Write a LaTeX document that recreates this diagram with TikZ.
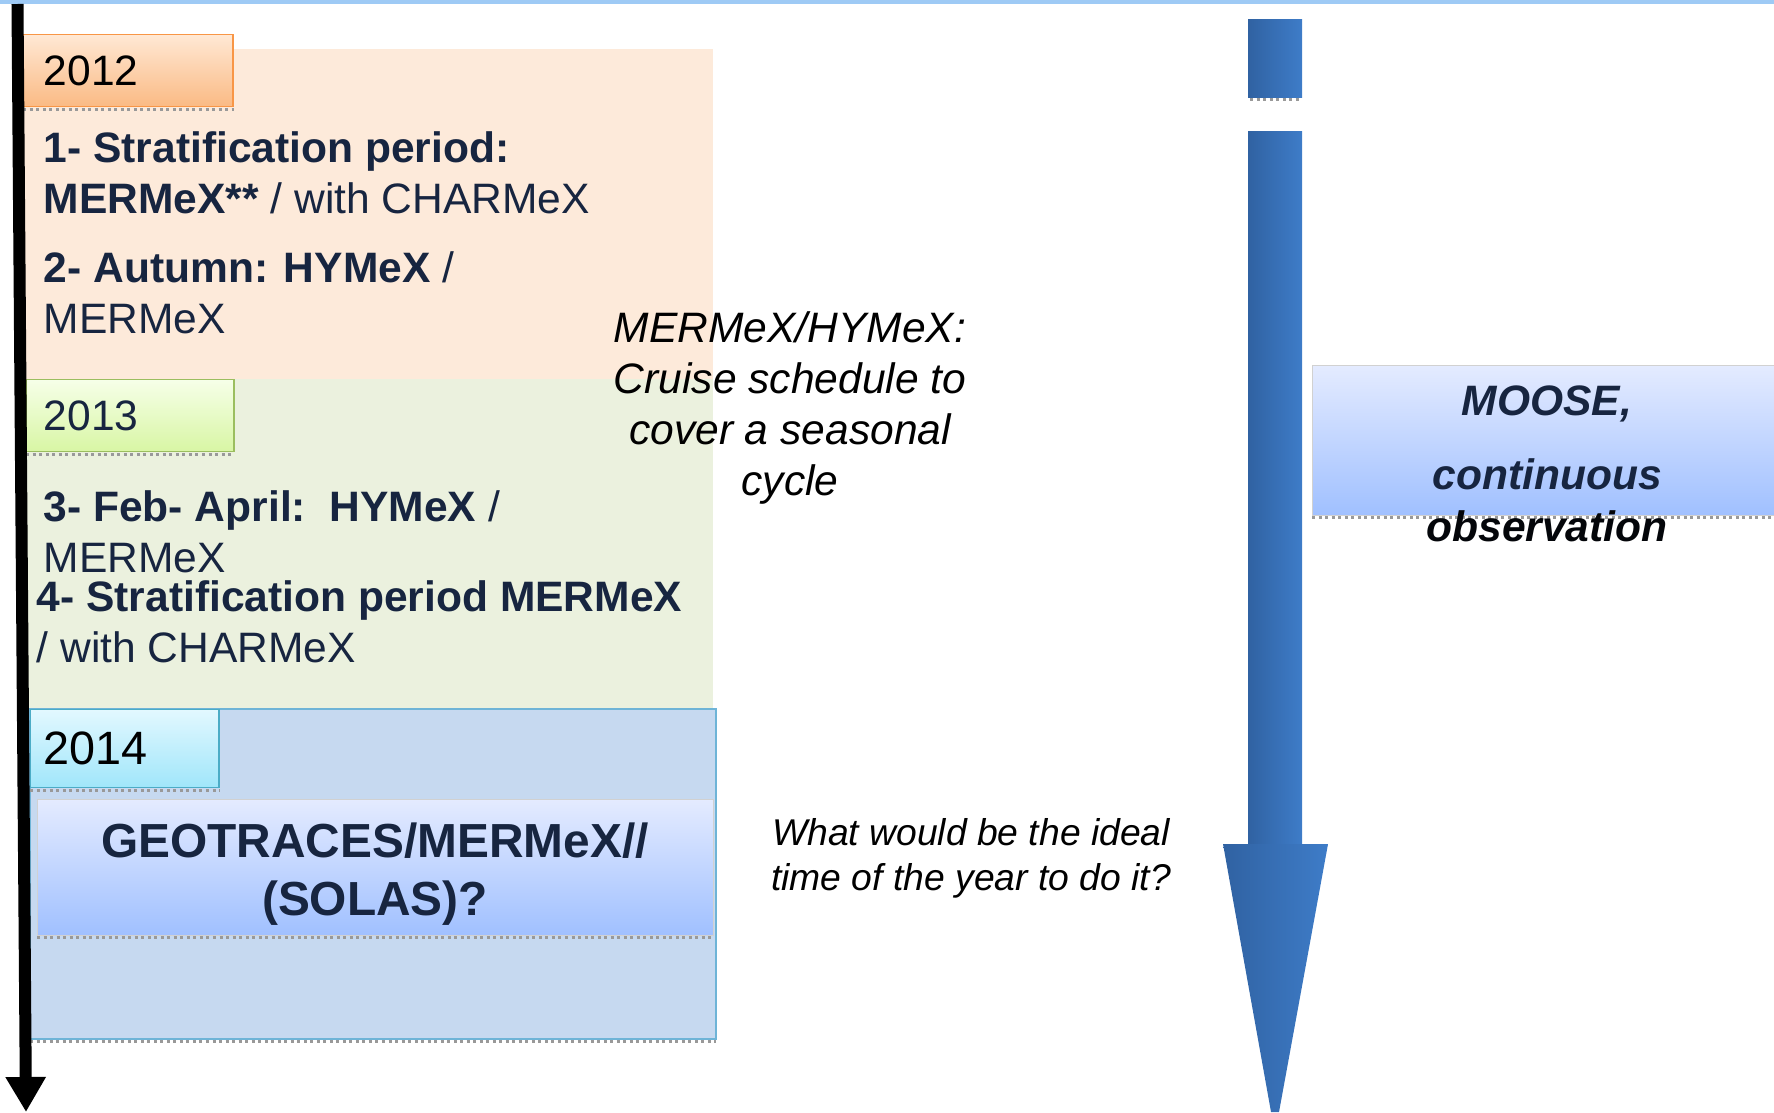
\documentclass[tikz,border=0pt]{standalone}
\usepackage{fontspec}
\setmainfont{Liberation Sans}
\usetikzlibrary{positioning,arrows.meta}
\definecolor{topline}{RGB}{158,202,245}
\definecolor{navy}{RGB}{23,37,64}
\definecolor{peach}{RGB}{253,234,218}
\definecolor{sage}{RGB}{235,241,222}
\definecolor{pale}{RGB}{198,217,240}
\definecolor{paleedge}{RGB}{110,180,215}
\definecolor{orgtop}{RGB}{255,232,212}
\definecolor{orgbot}{RGB}{250,186,132}
\definecolor{orgedge}{RGB}{248,150,70}
\definecolor{grntop}{RGB}{246,255,232}
\definecolor{grnbot}{RGB}{216,246,164}
\definecolor{grnedge}{RGB}{155,190,95}
\definecolor{cyntop}{RGB}{226,248,255}
\definecolor{cynbot}{RGB}{160,230,250}
\definecolor{cynedge}{RGB}{75,172,198}
\definecolor{lavtop}{RGB}{228,235,255}
\definecolor{lavbot}{RGB}{160,192,255}
\definecolor{arrl}{RGB}{48,98,162}
\definecolor{arrr}{RGB}{62,124,200}
\newcommand{\bodyfont}{\fontsize{12.1}{14.5}\selectfont}
\tikzset{line/.style={anchor=base west,inner sep=0,text=navy,font=\bodyfont}}
\tikzset{cruise/.style={anchor=base,inner sep=0,font=\bodyfont\itshape}}
\tikzset{ask/.style={anchor=base,inner sep=0,font=\fontsize{10.6}{12.8}\selectfont\itshape}}
\tikzset{moose/.style={anchor=base,inner sep=0,text=navy,font=\bodyfont\bfseries\itshape}}
\tikzset{yearbox/.style={anchor=north west,inner ysep=0,minimum height=.72cm,font=\bodyfont}}
\tikzset{bigbox/.style={anchor=north west,top color=lavtop,bottom color=lavbot,draw=black!18,line width=.2pt}}
\tikzset{shadowline/.style={black!40,line width=.03cm,densely dotted}}
\tikzset{shaft/.style={left color=arrl,right color=arrr}}
\tikzset{timeline/.style={line width=.12cm,-{Triangle[width=.38cm,length=.35cm]}}}

\begin{document}
\begin{tikzpicture}[x=.01cm,y=-.01cm]
\useasboundingbox (0,0) rectangle (1774,1112);
\fill[topline] (0,0) rectangle (1774,4);
\fill[peach] (17,49) rectangle (713,379);
\fill[sage] (17,379) rectangle (713,709);
\filldraw[fill=pale,draw=paleedge,line width=.02cm] (30,709) rectangle (716,1039);
\draw[shadowline] (30,1041) -- (716,1041);

\node[yearbox,top color=orgtop,bottom color=orgbot,draw=orgedge,inner xsep=.2cm,text width=1.69cm] (y2012) at (23,34) {2012};
\node[yearbox,top color=grntop,bottom color=grnbot,draw=grnedge,inner xsep=.17cm,text width=1.73cm,text=navy] (y2013) at (26,379) {2013};
\node[yearbox,top color=cyntop,bottom color=cynbot,draw=cynedge,inner xsep=.13cm,text width=1.62cm,minimum height=.78cm,font=\fontsize{13.3}{16}\selectfont] (y2014) at (30,709) {2014};
\draw[shadowline] ([yshift=-.02cm]y2012.south west) -- ([yshift=-.02cm]y2012.south east);
\draw[shadowline] ([yshift=-.02cm]y2013.south west) -- ([yshift=-.02cm]y2013.south east);
\draw[shadowline] ([yshift=-.02cm]y2014.south west) -- ([yshift=-.02cm]y2014.south east);

\node[line] (l1) at (43,162) {\bfseries 1- Stratification period:};
\node[line] (l2) at (43,213) {\textbf{MERMeX**} / with CHARMeX};
\node[line] (l3) at (43,282) {\textbf{2- Autumn: HYMeX} /};
\node[line] (l4) at (43,333) {MERMeX};
\node[line] (l5) at (43,521) {\textbf{3- Feb- April:\ \ HYMeX} /};
\node[line] (l6) at (43,572) {MERMeX};
\node[line] (l7) at (36,611) {\bfseries 4- Stratification period MERMeX};
\node[line] (l8) at (36,662) {/ with CHARMeX};

\node[bigbox,minimum width=6.76cm,minimum height=1.36cm] (geo) at (37,799) {};
\draw[shadowline] ([yshift=-.02cm]geo.south west) -- ([yshift=-.02cm]geo.south east);
\node[line,anchor=base,font=\fontsize{13.6}{16.5}\selectfont\bfseries] (g1) at (375,857) {GEOTRACES/MERMeX//};
\node[line,anchor=base,font=\fontsize{13.6}{16.5}\selectfont\bfseries] (g2) at (375,915) {(SOLAS)?};

\node[cruise] (c1) at (790,342) {MERMeX/HYMeX:};
\node[cruise] (c2) at (790,393) {Cruise schedule to};
\node[cruise] (c3) at (790,444) {cover a seasonal};
\node[cruise] (c4) at (790,495) {cycle};

\node[ask] (q1) at (971,845) {What would be the ideal};
\node[ask] (q2) at (971,890) {time of the year to do it?};

\shade[shaft] (1248,19) rectangle (1302,97);
\draw[shadowline] (1250,99) -- (1302,99);
\shade[shaft] (1248,131) rectangle (1302,844);
\shade[shaft] (1223,844) -- (1328,844) -- (1279,1112) -- (1271,1112) -- cycle;

\node[bigbox,minimum width=4.62cm,minimum height=1.5cm] (moosebox) at (1312,365) {};
\draw[shadowline] ([yshift=-.02cm]moosebox.south west) -- ([yshift=-.02cm]moosebox.south east);
\node[moose] (m1) at (1547,415) {MOOSE,};
\node[moose] (m2) at (1547,489) {continuous};
\node[moose,text=black!85!navy] (m3) at (1547,541) {observation};

\coordinate (ttop) at (17.5,4);
\coordinate (tend) at (26,1112);
\draw[timeline] (ttop) -- (tend);
\end{tikzpicture}
\end{document}
